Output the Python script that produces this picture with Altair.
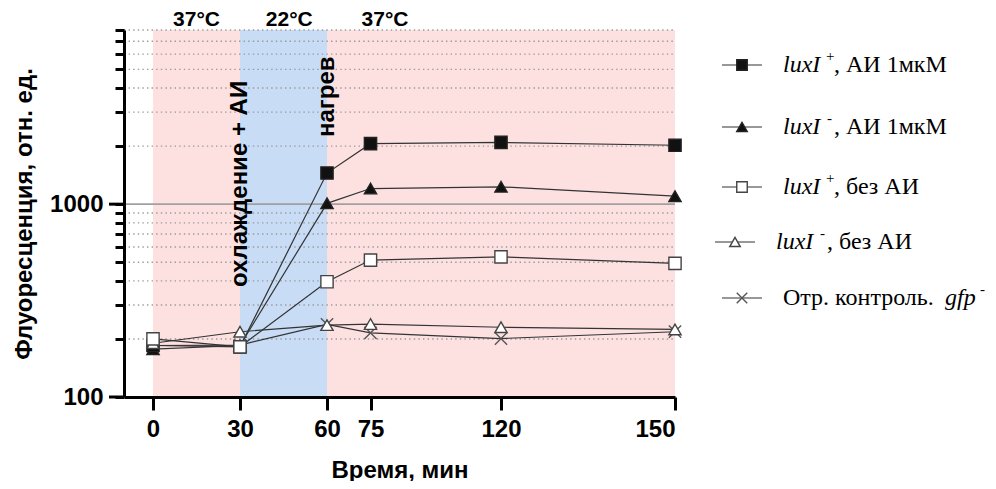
import altair as alt
import pandas as pd

# ---------------- data ----------------
times = [0, 30, 60, 75, 120, 150]
series_names = ["luxI+, АИ 1мкМ", "luxI-, АИ 1мкМ", "luxI+, без АИ", "luxI-, без АИ", "Отр. контроль. gfp-"]
s_luxp_ai = [185, 182, 1450, 2060, 2090, 2020]
s_luxm_ai = [177, 185, 1010, 1205, 1230, 1100]
s_luxp_no = [200, 182, 396, 513, 533, 493]
s_luxm_no = [190, 218, 236, 239, 230, 224]
s_neg = [185, 186, 238, 215, 201, 218]

x_ticks = [0, 30, 60, 75, 120, 150]
y_major = [100, 1000]
y_minor = [200, 300, 400, 500, 600, 700, 800, 900,
           2000, 3000, 4000, 5000, 6000, 7000, 8000]

period_start = [0, 30, 60]
period_end = [30, 60, 150]
period_color = ["#FDE1E1", "#C8DCF5", "#FDE1E1"]
period_label = ["37°C", "22°C", "37°C"]
period_label_x = [15, 47, 80]

annot_text = ["охлаждение + АИ", "нагрев"]
annot_x = [30, 60]
annot_y = [372, 2230]

# ---------------- styling ----------------
W, H = 551, 367
SANS = "Liberation Sans"
SERIF = "Liberation Serif"
DARK = "#333333"

xscale = alt.Scale(domain=[-10, 120, 150], range=[0, 377, W])
yscale = alt.Scale(type="log", domain=[100, 8000], nice=False)

shape_range = ["square", "triangle-up", "square", "triangle-up", "M-1,-1L1,1M1,-1L-1,1"]
fill_range = ["#111111", "#111111", "#ffffff", "#ffffff", "transparent"]
stroke_range = ["#222222", "#222222", "#444444", "#444444", "#555555"]

all_series = [s_luxp_ai, s_luxm_ai, s_luxp_no, s_luxm_no, s_neg]
rows = []
for name, vals in zip(series_names, all_series):
    for t, v in zip(times, vals):
        rows.append({"series": name, "t": t, "v": v})
df = pd.DataFrame(rows)

draw_order = [series_names[4], series_names[1], series_names[0], series_names[3], series_names[2]]
df_pts = pd.concat([df[df.series == s] for s in draw_order])

periods = pd.DataFrame({"start": period_start, "end": period_end,
                        "col": period_color, "lab": period_label, "lx": period_label_x})
grid_df = pd.DataFrame({"v": y_minor})
major_df = pd.DataFrame({"v": [1000]})
major_tick_df = pd.DataFrame({"v": y_major})
annot_df = pd.DataFrame({"txt": annot_text, "x": annot_x, "y": annot_y})

major_test = " || ".join(f"datum.value == {m}" for m in y_major)

x_axis = alt.Axis(values=x_ticks, format="d", title="Время, мин",
                  domainColor="black", domainWidth=3, tickColor="black",
                  tickWidth=3, tickSize=13, labelFont=SANS, labelFontSize=24,
                  labelFontWeight="bold", labelColor="black", labelPadding=7,
                  titleFont=SANS, titleFontSize=24, titleFontWeight="bold",
                  titleColor="black", titlePadding=17, grid=False, zindex=1,
                  labelOverlap=False)
y_axis = alt.Axis(values=y_major + y_minor,
                  labelExpr=f"({major_test}) ? format(datum.value, 'd') : ''",
                  tickSize=9,
                  domainColor="black", domainWidth=3, tickColor="black", tickWidth=3,
                  labelFont=SANS, labelFontSize=24, labelFontWeight="bold",
                  labelColor="black", labelPadding=12,
                  title="Флуоресценция, отн. ед.", titleFont=SANS, titleFontSize=24,
                  titleFontWeight="bold", titleColor="black", titlePadding=13,
                  grid=False, zindex=1, labelOverlap=False)

shade = alt.Chart(periods).mark_rect().encode(
    x=alt.X("start:Q", scale=xscale, axis=x_axis),
    x2="end:Q",
    y=alt.value(0), y2=alt.value(H),
    color=alt.Color("col:N", scale=None),
)

grid = alt.Chart(grid_df).mark_rule(color="#9a9a9a", strokeWidth=1.4, strokeDash=[1.4, 3.2]).encode(
    y=alt.Y("v:Q", scale=yscale, axis=y_axis),
    x=alt.value(0), x2=alt.value(W),
)
major_rule = alt.Chart(major_df).mark_rule(color="#a0a0a0", strokeWidth=1.6).encode(
    y=alt.Y("v:Q", scale=yscale),
    x=alt.value(0), x2=alt.value(W),
)
# longer ticks for the decades 100 and 1000
major_ticks = alt.Chart(major_tick_df).mark_rule(color="black", strokeWidth=3).encode(
    y=alt.Y("v:Q", scale=yscale),
    x=alt.value(-15), x2=alt.value(0),
)

lines = alt.Chart(df).mark_line(color=DARK, strokeWidth=1.2).encode(
    x=alt.X("t:Q", scale=xscale),
    y=alt.Y("v:Q", scale=yscale),
    detail="series:N",
    order="t:Q",
)

points = alt.Chart(df_pts).mark_point(filled=False, size=150, strokeWidth=1.4, opacity=1).encode(
    x=alt.X("t:Q", scale=xscale),
    y=alt.Y("v:Q", scale=yscale),
    shape=alt.Shape("series:N", scale=alt.Scale(domain=series_names, range=shape_range), legend=None),
    fill=alt.Fill("series:N", scale=alt.Scale(domain=series_names, range=fill_range), legend=None),
    stroke=alt.Stroke("series:N", scale=alt.Scale(domain=series_names, range=stroke_range), legend=None),
)

top_labels = alt.Chart(periods).mark_text(font=SANS, fontSize=21, fontWeight="bold",
                                          color="black", baseline="alphabetic").encode(
    x=alt.X("lx:Q", scale=xscale),
    y=alt.value(-4),
    text="lab:N",
)

annots = alt.Chart(annot_df).mark_text(font=SANS, fontSize=24, fontWeight="bold", color="black",
                                       angle=270, align="left", baseline="middle").encode(
    x=alt.X("x:Q", scale=xscale),
    y=alt.Y("y:Q", scale=yscale),
    text="txt:N",
)

# ---------------- manual legend (mixed italic / superscript text) ----------------
legend_row_y = [35, 97, 157, 212, 268]
legend_row_dx = [0, 0, 0, -7, 0]
legend_shape = ["square", "triangle-up", "square", "triangle-up", "M-1,-1L1,1M1,-1L-1,1"]
legend_fill = fill_range
legend_stroke = stroke_range
# pieces: (text, style, x)  style: i = italic, n = normal, s = superscript
legend_pieces = [
    [("luxI", "i", 659), ("+", "s", 702), (", АИ 1мкМ", "n", 710)],
    [("luxI", "i", 659), ("-", "s", 703), (", АИ 1мкМ", "n", 710)],
    [("luxI", "i", 659), ("+", "s", 702), (", без АИ", "n", 710)],
    [("luxI", "i", 659), ("-", "s", 703), (", без АИ", "n", 710)],
    [("Отр. контроль. ", "n", 659), ("gfp", "i", 821), ("-", "s", 856)],
]

one = pd.DataFrame({"k": [0]})
legend_layers = []
for i in range(5):
    ry = legend_row_y[i]
    dx = legend_row_dx[i]
    legend_layers.append(alt.Chart(one).mark_rule(color=DARK, strokeWidth=1.2).encode(
        x=alt.value(598 + dx), x2=alt.value(638 + dx), y=alt.value(ry)))
    legend_layers.append(alt.Chart(one).mark_point(
        shape=legend_shape[i], size=110, fill=legend_fill[i], stroke=legend_stroke[i],
        strokeWidth=1.4, opacity=1, filled=False).encode(
        x=alt.value(618 + dx), y=alt.value(ry)))
    for txt, style, px in legend_pieces[i]:
        if style == "s":
            legend_layers.append(alt.Chart(one).mark_text(
                font=SERIF, fontSize=15, color="black", align="left", baseline="middle").encode(
                x=alt.value(px + dx), y=alt.value(ry - 9), text=alt.value(txt)))
        else:
            legend_layers.append(alt.Chart(one).mark_text(
                font=SERIF, fontSize=24, color="black", align="left", baseline="middle",
                fontStyle="italic" if style == "i" else "normal").encode(
                x=alt.value(px + dx), y=alt.value(ry), text=alt.value(txt)))

chart = alt.layer(shade, grid, major_rule, major_ticks, lines, points, top_labels, annots,
                  *legend_layers).properties(
    width=W, height=H,
    autosize=alt.AutoSizeParams(type="none"),
    padding={"left": 116, "top": 22, "right": 313, "bottom": 84},
    background="white",
).configure_view(stroke=None)

chart.save("out.html", embed_options={"renderer": "svg", "actions": False})
